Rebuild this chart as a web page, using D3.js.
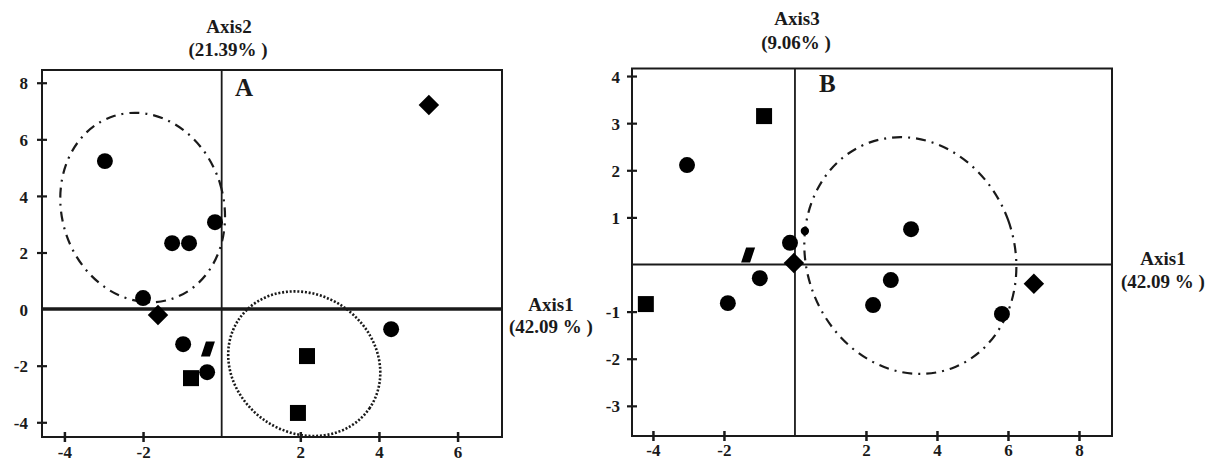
<!DOCTYPE html>
<html><head><meta charset="utf-8">
<script src="https://cdn.jsdelivr.net/npm/d3@7"></script>
<style>
body{margin:0;background:#fff;}
text{font-family:"Liberation Serif","Times New Roman",serif;font-weight:bold;fill:#1a1a1a;}
</style></head>
<body><svg id="c" width="1208" height="463"></svg>
<script>
// ---------- Panel A (Axis1 x Axis2) ----------
const A_xTicks = [-4, -2, 2, 4, 6];
const A_yTicks = [8, 6, 4, 2, 0, -2, -4];
const A_circleX = [-2.97, -1.26, -0.83, -0.17, -2.0, -0.98, -0.37, 4.31];
const A_circleY = [5.23, 2.33, 2.33, 3.07, 0.39, -1.24, -2.23, -0.71];
const A_squareX = [-0.78, 2.17, 1.94];
const A_squareY = [-2.44, -1.66, -3.67];
const A_diamondX = [5.27, -1.62];
const A_diamondY = [7.21, -0.21];
const A_paraX = [-0.35];
const A_paraY = [-1.41];
// ellipses: [cx, cy, rx, ry]
const A_ellipseDashDot = [-2.01, 3.59, 2.06, 3.39];
const A_ellipseDotted = [2.1, -1.93, 2.01, 2.44];

// ---------- Panel B (Axis1 x Axis3) ----------
const B_xTicks = [-4, -2, 2, 4, 6, 8];
const B_yTicks = [4, 3, 2, 1, -1, -2, -3];
const B_circleX = [-3.04, -0.14, -0.99, -1.89, 2.2, 2.7, 3.27, 5.83];
const B_circleY = [2.11, 0.46, -0.29, -0.82, -0.86, -0.33, 0.75, -1.05];
const B_smallCircleX = [0.28];
const B_smallCircleY = [0.71];
const B_squareX = [-0.87, -4.2];
const B_squareY = [3.15, -0.84];
const B_diamondX = [-0.03, 6.73];
const B_diamondY = [0.03, -0.41];
const B_paraX = [-1.32];
const B_paraY = [0.2];
const B_ellipseDashDot = [3.25, 0.19, 2.93, 2.55];

const svg = d3.select("#c");

const xA = d3.scaleLinear().domain([-4.57, 7.13]).range([42, 502]);
const yA = d3.scaleLinear().domain([-4.52, 8.45]).range([437, 70]);
const xB = d3.scaleLinear().domain([-4.59, 8.93]).range([632, 1112]);
const yB = d3.scaleLinear().domain([-3.64, 4.16]).range([436, 68.5]);

const fmt = d => String(d);

function panel(g, x, y, opt) {
  const [x0, x1] = x.range(), [y0, y1] = y.range();
  g.append("rect").attr("x", x0).attr("y", y1).attr("width", x1 - x0).attr("height", y0 - y1)
    .attr("fill", "none").attr("stroke", "#1a1a1a").attr("stroke-width", 2);
  const bx = g.append("g").attr("transform", `translate(0,${y0})`)
    .call(d3.axisBottom(x).tickValues(opt.xTicks).tickSize(5).tickFormat(fmt));
  bx.select(".domain").remove();
  bx.selectAll(".tick line").attr("y1", -5).attr("y2", 5).attr("stroke", "#1a1a1a").attr("stroke-width", 2.5);
  bx.selectAll(".tick text").attr("y", opt.xLabelY).attr("dy", 0).attr("font-size", 17)
    .attr("font-family", "Liberation Serif").attr("font-weight", "bold").attr("fill", "#1a1a1a");
  const ly = g.append("g").attr("transform", `translate(${x0},0)`)
    .call(d3.axisLeft(y).tickValues(opt.yTicks).tickSize(5).tickFormat(fmt));
  ly.select(".domain").remove();
  ly.selectAll(".tick line").attr("x1", -5).attr("x2", 5).attr("stroke", "#1a1a1a").attr("stroke-width", 2.2)
    .filter(d => d === 0).remove();
  ly.selectAll(".tick text").attr("x", opt.yLabelX).attr("dy", "0.36em").attr("font-size", 17)
    .attr("font-family", "Liberation Serif").attr("font-weight", "bold").attr("fill", "#1a1a1a");
  g.append("line").attr("x1", x0).attr("x2", x1).attr("y1", y(0)).attr("y2", y(0))
    .attr("stroke", "#1a1a1a").attr("stroke-width", opt.hWidth);
  g.append("line").attr("x1", x(0)).attr("x2", x(0)).attr("y1", y1).attr("y2", y0)
    .attr("stroke", "#1a1a1a").attr("stroke-width", 1.8);
}

function ellipse(g, x, y, e, rot, dash, sw) {
  const cx = x(e[0]), cy = y(e[1]);
  g.append("ellipse").attr("cx", cx).attr("cy", cy)
    .attr("rx", x(e[0] + e[2]) - cx).attr("ry", cy - y(e[1] + e[3]))
    .attr("transform", `rotate(${rot},${cx},${cy})`)
    .attr("fill", "none").attr("stroke", "#1a1a1a").attr("stroke-width", sw)
    .attr("stroke-dasharray", dash);
}

function points(g, x, y, xs, ys, kind, size) {
  const data = xs.map((v, i) => [v, ys[i]]);
  const sel = g.append("g").selectAll("path").data(data).join("path")
    .attr("fill", "#000");
  if (kind === "circle") {
    sel.attr("d", d3.symbol(d3.symbolCircle, size)).attr("transform", d => `translate(${x(d[0])},${y(d[1])})`);
  } else if (kind === "square") {
    sel.attr("d", d3.symbol(d3.symbolSquare, size)).attr("transform", d => `translate(${x(d[0])},${y(d[1])})`);
  } else if (kind === "diamond") {
    sel.attr("d", d3.symbol(d3.symbolSquare, size)).attr("transform", d => `translate(${x(d[0])},${y(d[1])}) rotate(45)`);
  } else if (kind === "para") {
    sel.attr("d", "M-7,7.5L-2,-7.5L7,-7.5L2,7.5Z").attr("transform", d => `translate(${x(d[0])},${y(d[1])})`);
  }
}

// Panel A
const gA = svg.append("g");
panel(gA, xA, yA, {xTicks: A_xTicks, yTicks: A_yTicks, xLabelY: 21, yLabelX: -14, hWidth: 3.5});
ellipse(gA, xA, yA, A_ellipseDashDot, -17, "10,6,2,6", 2.2);
ellipse(gA, xA, yA, A_ellipseDotted, 34, "2,1.8", 2.6);
points(gA, xA, yA, A_circleX, A_circleY, "circle", 200);
points(gA, xA, yA, A_squareX, A_squareY, "square", 256);
points(gA, xA, yA, A_diamondX, A_diamondY, "diamond", 210);
points(gA, xA, yA, A_paraX, A_paraY, "para");
gA.append("text").attr("x", 235).attr("y", 96).attr("font-size", 25).text("A");
gA.append("text").attr("x", 229).attr("y", 33).attr("text-anchor", "middle").attr("font-size", 19).text("Axis2");
gA.append("text").attr("x", 228).attr("y", 56).attr("text-anchor", "middle").attr("font-size", 19).text("(21.39% )");
gA.append("text").attr("x", 551).attr("y", 311).attr("text-anchor", "middle").attr("font-size", 19).text("Axis1");
gA.append("text").attr("x", 551).attr("y", 333).attr("text-anchor", "middle").attr("font-size", 19).text("(42.09 % )");

// Panel B
const gB = svg.append("g");
panel(gB, xB, yB, {xTicks: B_xTicks, yTicks: B_yTicks, xLabelY: 20, yLabelX: -12, hWidth: 1.8});
ellipse(gB, xB, yB, B_ellipseDashDot, -20, "10,6,2,6", 2.2);
points(gB, xB, yB, B_circleX, B_circleY, "circle", 200);
points(gB, xB, yB, B_smallCircleX, B_smallCircleY, "circle", 55);
points(gB, xB, yB, B_squareX, B_squareY, "square", 256);
points(gB, xB, yB, B_diamondX, B_diamondY, "diamond", 210);
points(gB, xB, yB, B_paraX, B_paraY, "para");
gB.append("text").attr("x", 819).attr("y", 92).attr("font-size", 25).text("B");
gB.append("text").attr("x", 797).attr("y", 25).attr("text-anchor", "middle").attr("font-size", 19).text("Axis3");
gB.append("text").attr("x", 796).attr("y", 49).attr("text-anchor", "middle").attr("font-size", 19).text("(9.06% )");
gB.append("text").attr("x", 1163).attr("y", 265).attr("text-anchor", "middle").attr("font-size", 19).text("Axis1");
gB.append("text").attr("x", 1163).attr("y", 288).attr("text-anchor", "middle").attr("font-size", 19).text("(42.09 % )");
</script></body></html>
